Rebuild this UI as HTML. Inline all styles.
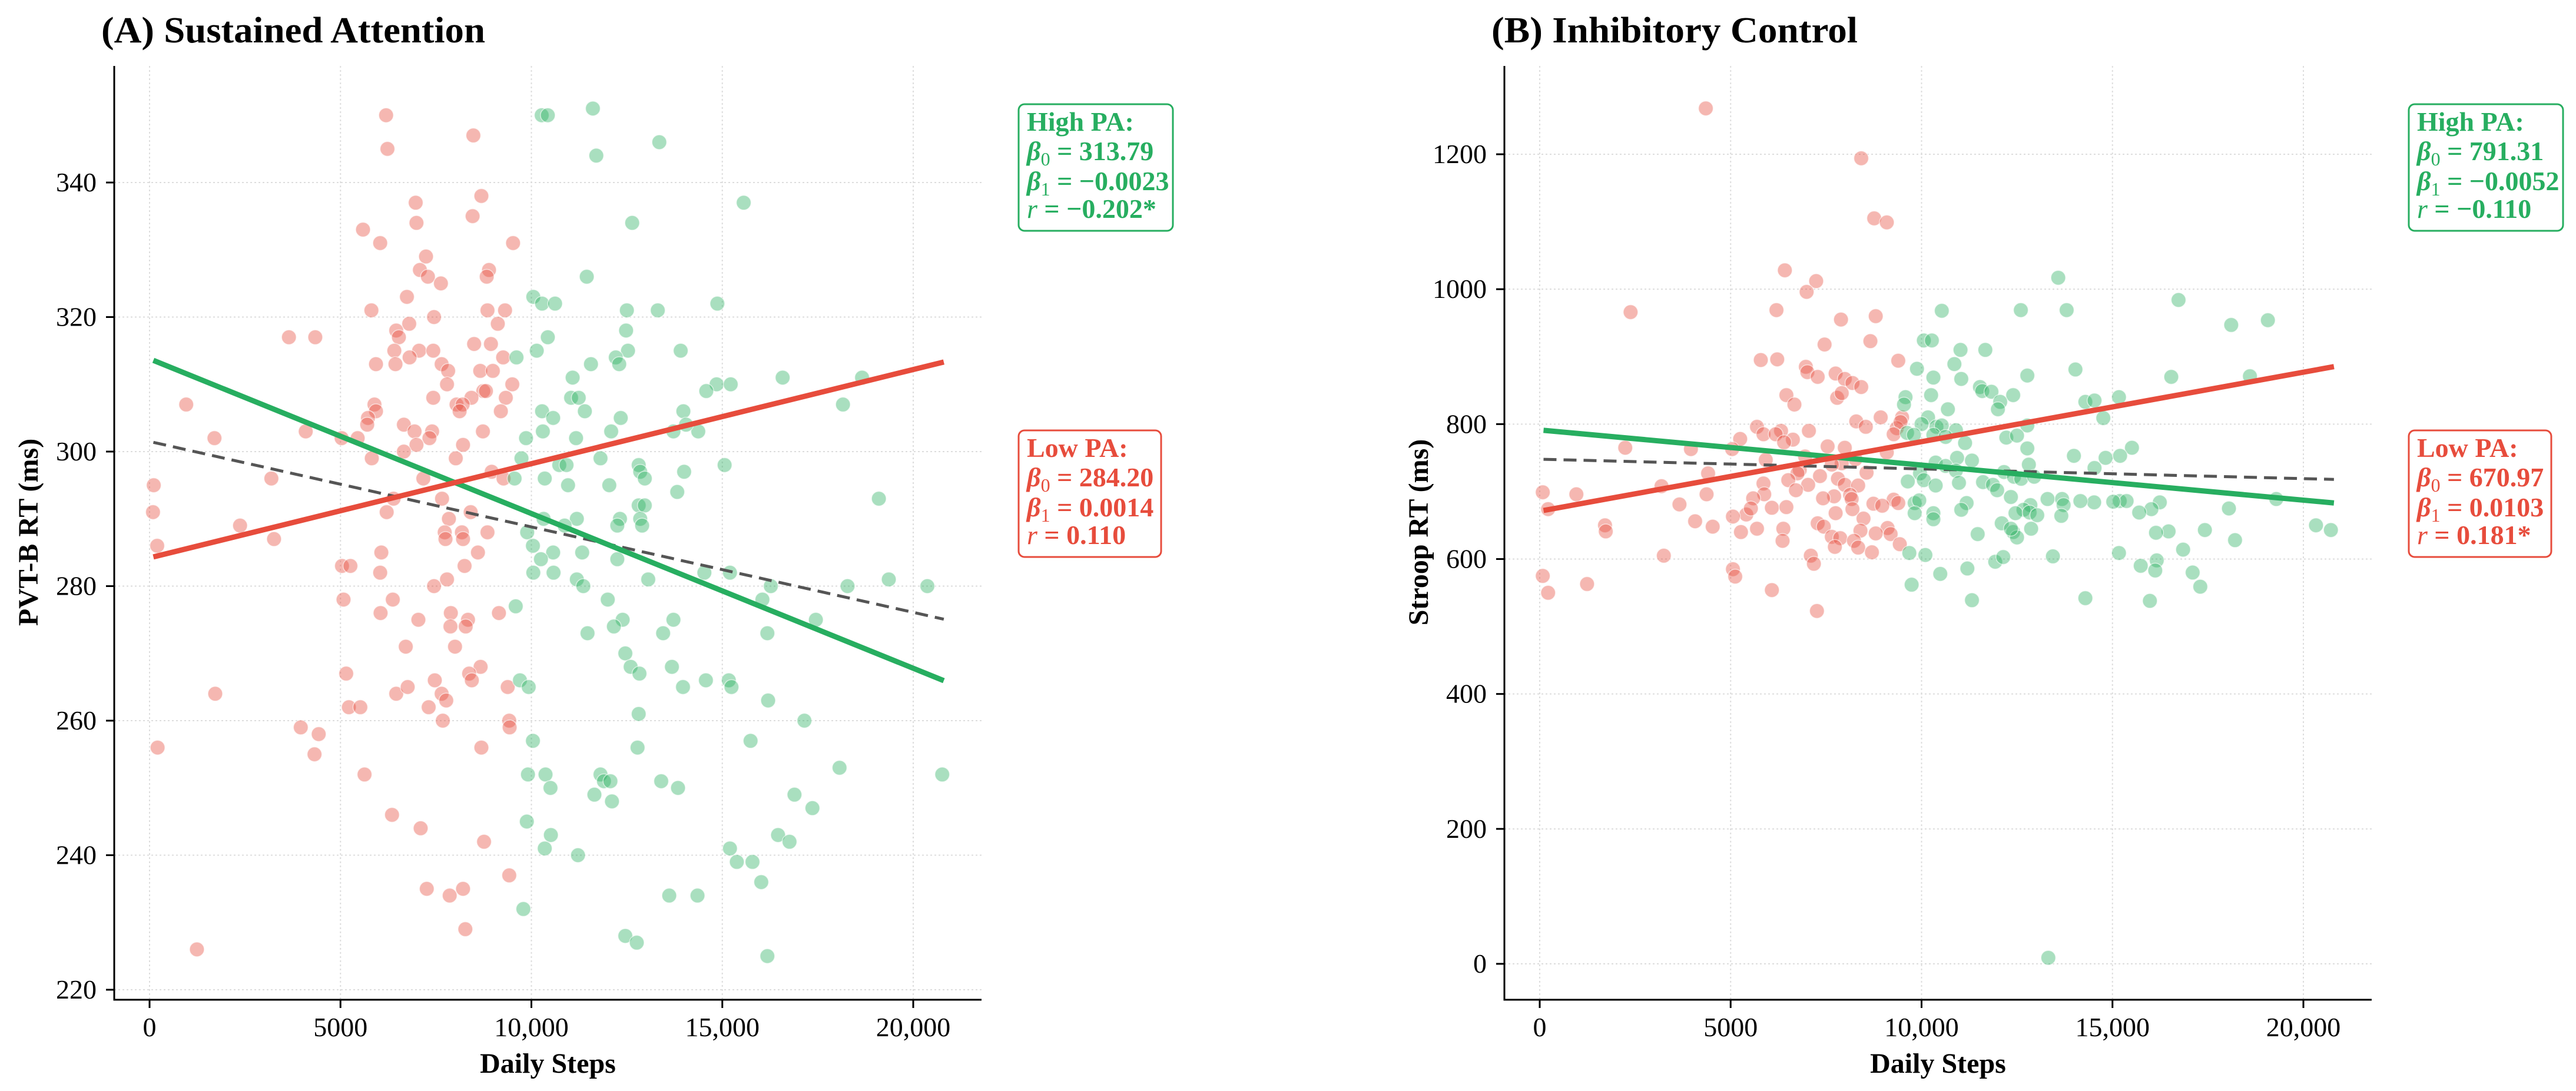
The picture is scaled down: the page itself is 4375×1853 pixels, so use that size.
<!DOCTYPE html>
<html><head><meta charset="utf-8">
<style>
html,body{margin:0;padding:0;background:#fff;}
svg{display:block;font-family:"Liberation Serif",serif;}
</style></head>
<body>
<svg id="chart" width="4375" height="1853" viewBox="0 0 4375 1853" xmlns="http://www.w3.org/2000/svg">
<rect width="4375" height="1853" fill="#fff"/>
</svg>
<script>
// ---------- Panel A data (Sustained Attention) ----------
const aLowSteps=[6195,6230,8480,8690,6970,6990,8460,5590,6040,9520,7240,7080,8890,7290,8830,7630,6740,5810,8850,9310,7450,9120,6800,6460,6530,3650,4340,8500,8940,6410,7060,7430,6810,9260,5930,6440,7650,8660,7820,8990,9500,7790,8740,8810,7430,9330,8430,5890,8040,8200,960,5930,9200,8120,5720,5700,6660,4090,6940,7400,8730,5450,1700,5030,7330,8210,6990,6660,8020,5820,8960,3190,7170,9270,110,7660,6390,90,6210,8410,7840,2370,200,7730,8850,8180,7750,3260,8210,8600,6070,5040,5260,8250,6040,7790,7450,5080,6370,7040,7890,6050,9150,8340,7880,8280,6710,8000,8670,5150,8370,1720,6460,6760,7470,8440,9380,7650,7770,5220,5520,7310,7680,9420,9430,3960,4430,210,8690,4320,5630,6350,7100,8760,9420,7260,8210,7860,8270,1240];
const aLowRT=[350,345,347,338,337,334,335,333,331,331,329,327,327,326,326,325,323,321,321,321,320,319,319,318,317,317,317,316,316,315,315,315,314,314,313,313,313,312,312,312,310,310,309,309,308,308,308,307,307,307,307,306,306,306,305,304,304,303,303,303,303,302,302,302,302,301,301,300,299,299,297,296,296,296,295,293,293,291,291,291,290,289,286,288,288,288,287,287,287,285,285,283,283,283,282,281,280,278,278,275,276,276,276,275,274,274,271,271,268,267,267,264,264,265,266,266,265,264,263,262,262,262,260,260,259,259,258,256,256,255,252,246,244,242,237,235,235,234,229,226];
const aHighSteps=[11610,10270,10430,11700,13350,15560,12640,11450,10050,10280,10620,14870,12500,13310,12480,10430,10140,12530,13910,9610,12210,11560,12300,11080,16580,18660,14850,15220,11040,11240,14580,18160,10280,11400,13980,10570,12340,13720,14370,14050,10300,12090,9860,11170,11810,9740,10730,12810,15060,10920,12850,14000,12970,10350,9560,10960,12040,13820,19100,12810,12970,12850,10320,11190,12320,10870,12250,12900,9890,10040,10570,11330,10250,12250,10050,10580,14530,15200,11190,13060,19360,11360,16270,18280,20370,12000,16050,9590,12390,13720,17450,12160,11470,13450,16180,12460,12600,13680,12830,9700,14570,15170,9930,13970,15240,16200,12810,17150,10040,15740,12780,18070,9910,10370,11810,20760,11900,13400,12070,13840,10500,16890,11650,12110,17360,9880,10510,16460,16760,10350,15200,11220,15380,15790,16020,13610,14350,9790,12460,12760,16180];
const aHighRT=[351,350,350,344,346,337,334,326,323,322,322,322,321,321,318,317,315,315,315,314,314,313,313,311,311,311,310,310,308,308,309,307,306,306,306,305,305,303,303,304,303,303,302,302,299,299,298,298,298,298,297,297,296,296,296,295,295,294,293,292,292,290,290,290,290,289,289,289,288,286,285,285,284,284,282,282,282,282,281,281,281,280,280,280,280,278,278,277,275,275,275,274,273,273,273,270,268,268,267,266,266,266,265,265,265,263,261,260,257,257,256,253,252,252,252,252,251,251,251,250,250,249,249,248,247,245,243,243,242,241,241,240,239,239,236,234,234,232,228,227,225];
const aYTicks=[220,240,260,280,300,320,340];
const aFit={high:[313.79,-0.0023],low:[284.20,0.0014],all:[301.5,-0.00127]};

// ---------- Panel B data (Inhibitory Control) ----------
const bLowSteps=[4350,8420,8760,9090,6420,7240,6990,2380,6200,7890,8800,8660,7460,5790,6220,9390,6970,7010,7280,7750,7990,8190,8420,6460,6670,7790,7910,9490,8290,5690,8540,8930,6320,7050,5860,6180,9350,9450,9270,5250,6630,6400,7540,7990,2240,3960,5040,6950,9090,5920,8270,7910,7650,6810,4410,6750,8560,7340,7810,6510,5860,7030,7990,8340,3190,6710,80,960,4370,8130,5880,7710,7420,8170,9270,5590,220,8740,9390,3660,8970,6080,6460,8190,5410,5530,7750,4070,8480,4530,1710,7280,6380,5690,7440,9110,8400,1730,5270,9190,8800,5060,7650,7870,8230,6360,9430,7730,8340,8700,3250,7100,7180,5060,80,5120,1240,6080,220,7260];
const bLowRT=[1268,1194,1105,1099,1028,1012,996,966,969,955,960,923,918,895,896,894,885,877,870,875,867,861,855,843,829,839,846,810,804,796,796,810,790,790,785,785,794,803,785,778,777,773,767,765,765,763,763,752,758,747,748,742,740,732,727,727,728,723,719,717,712,710,710,709,708,702,699,696,696,695,696,693,690,689,688,690,674,682,683,681,679,676,677,674,666,675,668,656,660,648,650,653,645,645,648,646,642,641,640,637,638,663,633,631,627,627,622,618,617,610,605,605,593,585,575,574,563,554,550,523];
const bHighSteps=[13580,16730,10530,12600,13800,19070,18110,10060,10270,11020,11670,14030,9880,10860,11040,12770,10310,16540,18600,11530,11590,11830,12400,9580,10250,12060,9540,12000,10690,14290,14530,15170,14760,10170,10000,10390,10530,12770,9620,10900,9800,10310,10630,12220,12500,15510,13990,14820,14530,15200,11140,10930,12770,10370,10630,11320,12160,12810,10900,9960,9640,10060,10370,10980,11610,11870,12420,12610,12950,13300,13680,15190,15370,15020,14520,14160,11980,12340,12850,9820,9940,11180,16240,16020,13720,18050,19290,9820,10310,10310,11040,12670,12460,12830,13030,13660,15700,16470,16140,17420,20330,20720,18210,12100,12400,12500,12870,12340,11470,9680,10100,11930,12140,13440,15170,16160,16850,15740,16120,17100,10490,11200,9740,14290,11320,15980,17300,13320];
const bHighRT=[1017,984,968,969,969,954,947,924,924,910,910,881,882,889,867,872,869,870,871,855,849,848,843,840,843,833,829,822,822,833,835,840,809,810,800,796,798,798,787,791,784,784,781,780,783,765,753,750,735,753,772,750,764,743,738,746,729,740,731,727,715,717,709,713,714,710,722,719,722,689,689,686,686,685,684,686,702,692,680,683,687,683,684,674,680,675,689,668,668,659,673,673,668,669,665,664,669,641,639,643,650,643,628,653,640,632,645,645,637,609,606,596,603,604,609,598,614,590,583,580,578,586,562,542,539,538,559,9];
const bYTicks=[0,200,400,600,800,1000,1200];
const bFit={high:[791.31,-0.0052],low:[670.97,0.0103],all:[748,-0.00144]};

const xTicks=[0,5000,10000,15000,20000];
const xTickLabels=["0","5000","10,000","15,000","20,000"];

const NS="http://www.w3.org/2000/svg";
const svg=document.getElementById('chart');
function mk(tag,attrs,parent){const e=document.createElementNS(NS,tag);for(const k in attrs)e.setAttribute(k,attrs[k]);(parent||svg).appendChild(e);return e;}

const RED="#E74C3C", GREEN="#27AE60";

function panel(cfg){
  const g=mk('g',{});
  
  
  const L=cfg.ox+194,R=cfg.ox+1667,T=112,B=1698;
  const xs=v=>cfg.ox+254+(v)*(1297/20000);
  const ys=v=>cfg.y0px+(v-cfg.y0)*cfg.ypx;
  cfg.yTicks.forEach(t=>{
    const gl=mk('line',{x1:L,x2:R,y1:ys(t),y2:ys(t),stroke:"#ddd","stroke-width":2,"stroke-dasharray":"3,4"},g);
    
    
  });
  xTicks.forEach(t=>{
    const gl=mk('line',{x1:xs(t),x2:xs(t),y1:T,y2:B,stroke:"#ddd","stroke-width":2,"stroke-dasharray":"3,4"},g);
    
    
  });
  const drawPts=(sx,sy,col,nm)=>{
    sx.forEach((v,i)=>{
      const c=mk('circle',{cx:xs(v),cy:ys(sy[i]),r:12.5,fill:col,"fill-opacity":0.4,stroke:"#fff","stroke-width":1.5,"stroke-opacity":0.6},g);
      
      
    });
  };
  drawPts(cfg.lowX,cfg.lowY,RED,'low-pa-point');
  drawPts(cfg.highX,cfg.highY,GREEN,'high-pa-point');
  const x1=100,x2=20800;
  const fl=(f,col,w,dash,nm)=>{
    const l=mk('line',{x1:xs(x1),x2:xs(x2),y1:ys(f[0]+f[1]*x1),y2:ys(f[0]+f[1]*x2),stroke:col,"stroke-width":w},g);
    if(dash)l.setAttribute('stroke-dasharray',dash);
    
    
  };
  fl(cfg.fit.all,"#555",5,"22,12",'overall-fit-line');
  fl(cfg.fit.high,GREEN,9,null,'high-pa-fit-line');
  fl(cfg.fit.low,RED,9,null,'low-pa-fit-line');
  const sl=mk('line',{x1:L,x2:L,y1:T,y2:B+1.5,stroke:"#000","stroke-width":3},g);
  
  
  const sb=mk('line',{x1:L-1.5,x2:R,y1:B,y2:B,stroke:"#000","stroke-width":3},g);
  
  
  cfg.yTicks.forEach(t=>{
    const tk=mk('line',{x1:L-14,x2:L,y1:ys(t),y2:ys(t),stroke:"#000","stroke-width":3},g);
    
    
    const tx=mk('text',{x:L-30,y:ys(t)+15,"font-size":46,"text-anchor":"end",fill:"#000"},g);
    tx.textContent=String(t);
    
    
  });
  xTicks.forEach((t,i)=>{
    const tk=mk('line',{x1:xs(t),x2:xs(t),y1:B,y2:B+14,stroke:"#000","stroke-width":3},g);
    
    
    const tx=mk('text',{x:xs(t),y:1760,"font-size":46,"text-anchor":"middle",fill:"#000"},g);
    tx.textContent=xTickLabels[i];
    
    
  });
  const xl=mk('text',{x:(L+R)/2,y:1822,"font-size":48,"font-weight":"bold","text-anchor":"middle"},g);
  xl.textContent="Daily Steps";
  
  
  const yl=mk('text',{x:0,y:0,"font-size":48,"font-weight":"bold","text-anchor":"middle",transform:`translate(${cfg.ox+64},904) rotate(-90)`},g);
  yl.textContent=cfg.ylabel;
  
  
  const ti=mk('text',{x:cfg.ox+172,y:72,"font-size":62,"font-weight":"bold",textLength:cfg.titleW,lengthAdjust:"spacingAndGlyphs"},g);
  ti.textContent=cfg.title;
  
  
  const box=(y,w,h,col,lines,nm)=>{
    const bg=mk('g',{},g);
    
    
    mk('rect',{x:cfg.ox+1730,y:y,width:w,height:h,rx:10,fill:"#fff",stroke:col,"stroke-width":3},bg);
    const bl=[45,95,146,193];
    lines.forEach((ln,i)=>{
      const t=mk('text',{x:cfg.ox+1744,y:y+bl[i],"font-size":46,"font-weight":"bold",fill:col},bg);
      t.innerHTML=ln;
    });
  };
  box(177,cfg.hw,215,GREEN,[
    'High PA:',
    `<tspan font-style="italic">β</tspan><tspan font-size="32" dy="9" font-weight="normal">0</tspan><tspan dy="-9"> = ${cfg.hb[0]}</tspan>`,
    `<tspan font-style="italic">β</tspan><tspan font-size="32" dy="9" font-weight="normal">1</tspan><tspan dy="-9"> = ${cfg.hb[1]}</tspan>`,
    `<tspan font-style="italic" font-weight="normal">r</tspan> = ${cfg.hb[2]}`],'high-pa-annotation');
  box(731,cfg.lw,215,RED,[
    'Low PA:',
    `<tspan font-style="italic">β</tspan><tspan font-size="32" dy="9" font-weight="normal">0</tspan><tspan dy="-9"> = ${cfg.lb[0]}</tspan>`,
    `<tspan font-style="italic">β</tspan><tspan font-size="32" dy="9" font-weight="normal">1</tspan><tspan dy="-9"> = ${cfg.lb[1]}</tspan>`,
    `<tspan font-style="italic" font-weight="normal">r</tspan> = ${cfg.lb[2]}`],'low-pa-annotation');
}

panel({name:'panel-a-sustained-attention',ox:0,y0:340,y0px:310,ypx:-(1681-310)/120,yTicks:aYTicks,
  lowX:aLowSteps,lowY:aLowRT,highX:aHighSteps,highY:aHighRT,fit:aFit,
  ylabel:"PVT-B RT (ms)",title:"(A) Sustained Attention",titleW:652,
  hw:262,lw:242,hb:["313.79","−0.0023","−0.202*"],lb:["284.20","0.0014","0.110"]});
panel({name:'panel-b-inhibitory-control',ox:2361,y0:0,y0px:1637,ypx:-(1637-262)/1200,yTicks:bYTicks,
  lowX:bLowSteps,lowY:bLowRT,highX:bHighSteps,highY:bHighRT,fit:bFit,
  ylabel:"Stroop RT (ms)",title:"(B) Inhibitory Control",titleW:622,
  hw:262,lw:242,hb:["791.31","−0.0052","−0.110"],lb:["670.97","0.0103","0.181*"]});
</script>
</body></html>
